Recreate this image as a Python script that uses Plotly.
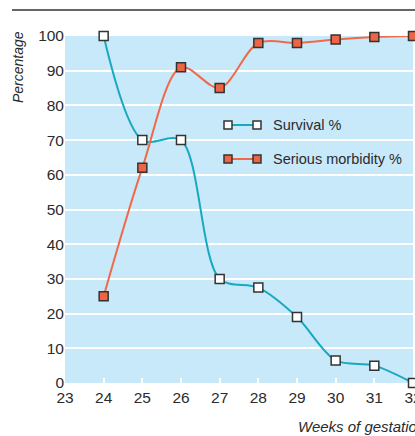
import plotly.graph_objects as go

weeks = [24, 25, 26, 27, 28, 29, 30, 31, 32]
survival = [100, 70, 70, 30, 27.5, 19, 6.5, 5, 0]
morbidity = [25, 62, 91, 85, 98, 98, 99, 99.7, 100]
x_ticks = [23, 24, 25, 26, 27, 28, 29, 30, 31, 32]
y_ticks = [0, 10, 20, 30, 40, 50, 60, 70, 80, 90, 100]
series_names = ["Survival %", "Serious morbidity %"]

FONT = "Liberation Sans, Arial, sans-serif"
TEXT = "#2b2b2b"
TEAL = "#17a9bf"
RED_LINE = "#ef6a4a"
RED_FILL = "#ef6444"
EDGE = "#333333"

W, H = 415, 436
ML, MR, MT, MB = 65, 2, 36, 53
PW, PH = W - ML - MR, H - MT - MB


def px(x):
    return (x - ML) / PW


def py(y):
    return (H - MB - y) / PH


fig = go.Figure()
fig.add_trace(go.Scatter(
    x=weeks, y=survival, name=series_names[0], mode="lines+markers",
    line=dict(color=TEAL, width=2, shape="spline", smoothing=0.9),
    marker=dict(symbol="square", size=9, color="white", line=dict(color=EDGE, width=1.5)),
    cliponaxis=False, showlegend=False,
))
fig.add_trace(go.Scatter(
    x=weeks, y=morbidity, name=series_names[1], mode="lines+markers",
    line=dict(color=RED_LINE, width=2, shape="spline", smoothing=0.9),
    marker=dict(symbol="square", size=9, color=RED_FILL, line=dict(color=EDGE, width=1.5)),
    cliponaxis=False, showlegend=False,
))

# legend keys: marker - line - marker, as in the original
shapes = [dict(type="line", xref="paper", yref="paper",
               x0=px(12), x1=1.01, y0=py(10), y1=py(10),
               line=dict(color=EDGE, width=1.5))]
annotations = []
key_rows = [(125, TEAL, "white", series_names[0]), (159, RED_LINE, RED_FILL, series_names[1])]
for yk, lc, fc, name in key_rows:
    shapes.append(dict(type="line", xref="paper", yref="paper",
                       x0=px(228), x1=px(257), y0=py(yk), y1=py(yk),
                       line=dict(color=lc, width=2)))
    for xc in (228, 257):
        shapes.append(dict(type="rect", xref="paper", yref="paper",
                           x0=px(xc - 4), x1=px(xc + 4), y0=py(yk - 4), y1=py(yk + 4),
                           fillcolor=fc, line=dict(color=EDGE, width=1.5)))
    annotations.append(dict(text=name, xref="paper", yref="paper",
                            x=px(271), y=py(yk), xanchor="left", yanchor="middle",
                            showarrow=False, font=dict(family=FONT, size=14.5, color=TEXT)))

annotations += [
    dict(text="<i>Percentage</i>", xref="paper", yref="paper",
         x=px(18), y=py(67), textangle=-90,
         showarrow=False, xanchor="center", yanchor="middle",
         font=dict(family=FONT, size=14, color=TEXT)),
    dict(text="<i>Weeks of gestation</i>", xref="paper", yref="paper",
         x=px(296), y=py(426),
         showarrow=False, xanchor="left", yanchor="middle",
         font=dict(family=FONT, size=15, color=TEXT)),
]

fig.update_layout(
    width=W, height=H,
    margin=dict(l=ML, r=MR, t=MT, b=MB, autoexpand=False),
    paper_bgcolor="white", plot_bgcolor="#c8e9f9",
    font=dict(family=FONT, size=15, color=TEXT),
    showlegend=False,
    xaxis=dict(range=[23, 32], tickvals=x_ticks, ticktext=[str(v) for v in x_ticks],
               showgrid=False, zeroline=False, showline=False, automargin=False,
               ticks="inside", ticklen=5, tickwidth=2, tickcolor="white",
               ticklabeloverflow="allow", ticklabelstandoff=3,
               tickfont=dict(size=15.5, color=TEXT)),
    yaxis=dict(range=[0, 100], tickvals=y_ticks, ticktext=[str(v) for v in y_ticks],
               showgrid=True, gridcolor="white", gridwidth=2, zeroline=False,
               showline=False, ticks="", automargin=False,
               ticklabeloverflow="allow",
               tickfont=dict(size=15.5, color=TEXT)),
    shapes=shapes,
    annotations=annotations,
)

fig.write_html(
    "out.html",
    config={"displayModeBar": False},
    post_script="document.body.style.margin='0';document.body.style.overflow='hidden';",
)
